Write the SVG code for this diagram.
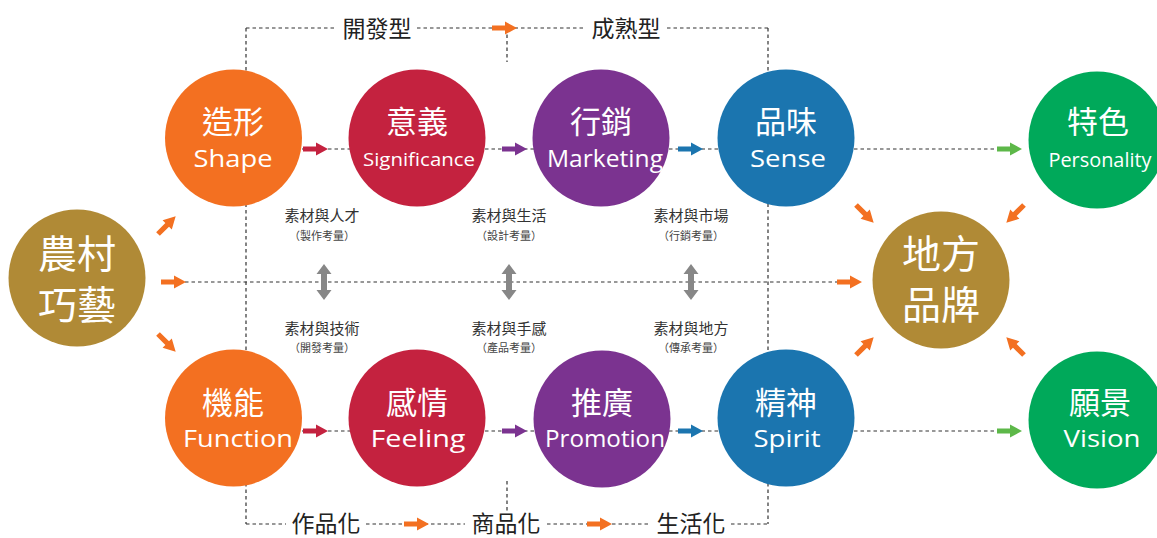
<svg xmlns="http://www.w3.org/2000/svg" xmlns:xlink="http://www.w3.org/1999/xlink" width="1157" height="538" viewBox="0 0 1157 538">
<defs>
<style>
.dash{stroke:#333;stroke-width:1.2;stroke-dasharray:3.5 3;fill:none}
.t1{font-family:"Noto Sans CJK TC","Noto Sans CJK SC",sans-serif;font-size:31px;fill:#fff;font-weight:400;text-anchor:middle}
.en{font-family:"Open Sans","Lato",sans-serif;fill:#fff;text-anchor:middle}
.big{font-family:"Noto Sans CJK TC","Noto Sans CJK SC",sans-serif;font-size:39px;fill:#fff;font-weight:400;text-anchor:middle}
.frame{font-family:"Noto Sans CJK TC","Noto Sans CJK SC",sans-serif;font-size:23px;fill:#222;text-anchor:middle}
.sub{font-family:"Noto Sans CJK TC","Noto Sans CJK SC",sans-serif;font-size:15px;fill:#333;text-anchor:middle}
.sub2{font-family:"Noto Sans CJK TC","Noto Sans CJK SC",sans-serif;font-size:11px;fill:#444;text-anchor:middle}
</style>
<path id="arr" d="M0,-2.6 H13 V-6.5 L25,0 L13,6.5 V2.6 H0 Z"/>
<path id="darr" d="M0,-18 L7.5,-8 H3 V8 H7.5 L0,18 L-7.5,8 H-3 V-8 H-7.5 Z"/>
</defs>
<rect width="1157" height="538" fill="#fff"/>

<g id="connectors">
  <path class="dash" d="M246,28 H336 M417,28 H584 M667,28 H768"/>
  <path class="dash" d="M246,524 H286 M366,524 H465 M547,524 H651 M731,524 H768"/>
  <path class="dash" d="M246,28 V524 M768,28 V524"/>
  <path class="dash" d="M507,28 V62 M507,481 V513"/>
  <path class="dash" d="M185,282 H840"/>
  <path class="dash" d="M302,149 H350 M485,149 H534 M669,149 H719 M854,149 H1000"/>
  <path class="dash" d="M302,431 H350 M485,431 H534 M669,431 H719 M854,431 H1000"/>
  <use xlink:href="#arr" transform="translate(492,28)" fill="#F37021"/>
  <use xlink:href="#arr" transform="translate(404,524)" fill="#F37021"/>
  <use xlink:href="#arr" transform="translate(587,524)" fill="#F37021"/>
  <use xlink:href="#arr" transform="translate(303,149)" fill="#C4223F"/>
  <use xlink:href="#arr" transform="translate(502,149)" fill="#7B3390"/>
  <use xlink:href="#arr" transform="translate(678,149)" fill="#1B75AF"/>
  <use xlink:href="#arr" transform="translate(997,149)" fill="#5DB849"/>
  <use xlink:href="#arr" transform="translate(303,431)" fill="#C4223F"/>
  <use xlink:href="#arr" transform="translate(502,431)" fill="#7B3390"/>
  <use xlink:href="#arr" transform="translate(678,431)" fill="#1B75AF"/>
  <use xlink:href="#arr" transform="translate(997,431)" fill="#5DB849"/>
  <use xlink:href="#arr" transform="translate(158,234) rotate(-45)" fill="#F37021"/>
  <use xlink:href="#arr" transform="translate(161,282)" fill="#F37021"/>
  <use xlink:href="#arr" transform="translate(158,334) rotate(45)" fill="#F37021"/>
  <use xlink:href="#arr" transform="translate(837,282)" fill="#F37021"/>
  <use xlink:href="#arr" transform="translate(856,205) rotate(45)" fill="#F37021"/>
  <use xlink:href="#arr" transform="translate(1024,205) rotate(135)" fill="#F37021"/>
  <use xlink:href="#arr" transform="translate(856,355) rotate(-45)" fill="#F37021"/>
  <use xlink:href="#arr" transform="translate(1024,355) rotate(-135)" fill="#F37021"/>
  <use xlink:href="#darr" transform="translate(324,282)" fill="#878787"/>
  <use xlink:href="#darr" transform="translate(509,282)" fill="#878787"/>
  <use xlink:href="#darr" transform="translate(691,282)" fill="#878787"/>
</g>

<g id="frame-labels">
  <text class="frame" x="377" y="37">開發型</text>
  <text class="frame" x="626" y="37">成熟型</text>
  <text class="frame" x="326" y="532">作品化</text>
  <text class="frame" x="506" y="532">商品化</text>
  <text class="frame" x="691" y="532">生活化</text>
</g>

<g id="sub-labels">
  <text class="sub" x="322" y="221">素材與人才</text>
  <text class="sub2" x="322" y="240">（製作考量）</text>
  <text class="sub" x="509" y="221">素材與生活</text>
  <text class="sub2" x="509" y="240">（設計考量）</text>
  <text class="sub" x="691" y="221">素材與市場</text>
  <text class="sub2" x="691" y="240">（行銷考量）</text>
  <text class="sub" x="322" y="334">素材與技術</text>
  <text class="sub2" x="322" y="352">（開發考量）</text>
  <text class="sub" x="509" y="334">素材與手感</text>
  <text class="sub2" x="509" y="352">（產品考量）</text>
  <text class="sub" x="691" y="334">素材與地方</text>
  <text class="sub2" x="691" y="352">（傳承考量）</text>
</g>

<g id="n-craft">
  <circle cx="77" cy="278" r="68.5" fill="#B08A36"/>
  <text class="big" x="77" y="268">農村</text>
  <text class="big" x="77" y="319">巧藝</text>
</g>
<g id="n-brand">
  <circle cx="941" cy="280" r="68.5" fill="#B08A36"/>
  <text class="big" x="941" y="268">地方</text>
  <text class="big" x="941" y="319">品牌</text>
</g>

<g id="n-shape">
  <circle cx="233.5" cy="138" r="68.5" fill="#F37021"/>
  <text class="t1" x="233" y="133">造形</text>
  <text class="en" x="233" y="167" font-size="24" textLength="79" lengthAdjust="spacingAndGlyphs">Shape</text>
</g>
<g id="n-significance">
  <circle cx="417" cy="138" r="68.5" fill="#C4223F"/>
  <text class="t1" x="417" y="133">意義</text>
  <text class="en" x="419" y="166" font-size="19" textLength="112" lengthAdjust="spacingAndGlyphs">Significance</text>
</g>
<g id="n-marketing">
  <circle cx="601" cy="138" r="68.5" fill="#7B3390"/>
  <text class="t1" x="601" y="133">行銷</text>
  <text class="en" x="605" y="167" font-size="24" textLength="116" lengthAdjust="spacingAndGlyphs">Marketing</text>
</g>
<g id="n-sense">
  <circle cx="786" cy="138" r="68.5" fill="#1B75AF"/>
  <text class="t1" x="786" y="133">品味</text>
  <text class="en" x="788" y="167" font-size="24" textLength="76" lengthAdjust="spacingAndGlyphs">Sense</text>
</g>
<g id="n-personality">
  <circle cx="1097" cy="140" r="68.5" fill="#00A95A"/>
  <text class="t1" x="1098" y="133">特色</text>
  <text class="en" x="1100" y="167" font-size="20" textLength="103" lengthAdjust="spacingAndGlyphs">Personality</text>
</g>

<g id="n-function">
  <circle cx="233.5" cy="418" r="68.5" fill="#F37021"/>
  <text class="t1" x="233" y="414">機能</text>
  <text class="en" x="238" y="447" font-size="24" textLength="110" lengthAdjust="spacingAndGlyphs">Function</text>
</g>
<g id="n-feeling">
  <circle cx="417" cy="418" r="68.5" fill="#C4223F"/>
  <text class="t1" x="417" y="414">感情</text>
  <text class="en" x="418" y="447" font-size="24" textLength="95" lengthAdjust="spacingAndGlyphs">Feeling</text>
</g>
<g id="n-promotion">
  <circle cx="602" cy="419" r="68.5" fill="#7B3390"/>
  <text class="t1" x="602" y="414">推廣</text>
  <text class="en" x="605" y="447" font-size="23" textLength="120" lengthAdjust="spacingAndGlyphs">Promotion</text>
</g>
<g id="n-spirit">
  <circle cx="786" cy="418" r="68.5" fill="#1B75AF"/>
  <text class="t1" x="786" y="414">精神</text>
  <text class="en" x="787" y="447" font-size="24" textLength="67" lengthAdjust="spacingAndGlyphs">Spirit</text>
</g>
<g id="n-vision">
  <circle cx="1097" cy="420" r="68.5" fill="#00A95A"/>
  <text class="t1" x="1100" y="414">願景</text>
  <text class="en" x="1102" y="447" font-size="24" textLength="77" lengthAdjust="spacingAndGlyphs">Vision</text>
</g>
</svg>
